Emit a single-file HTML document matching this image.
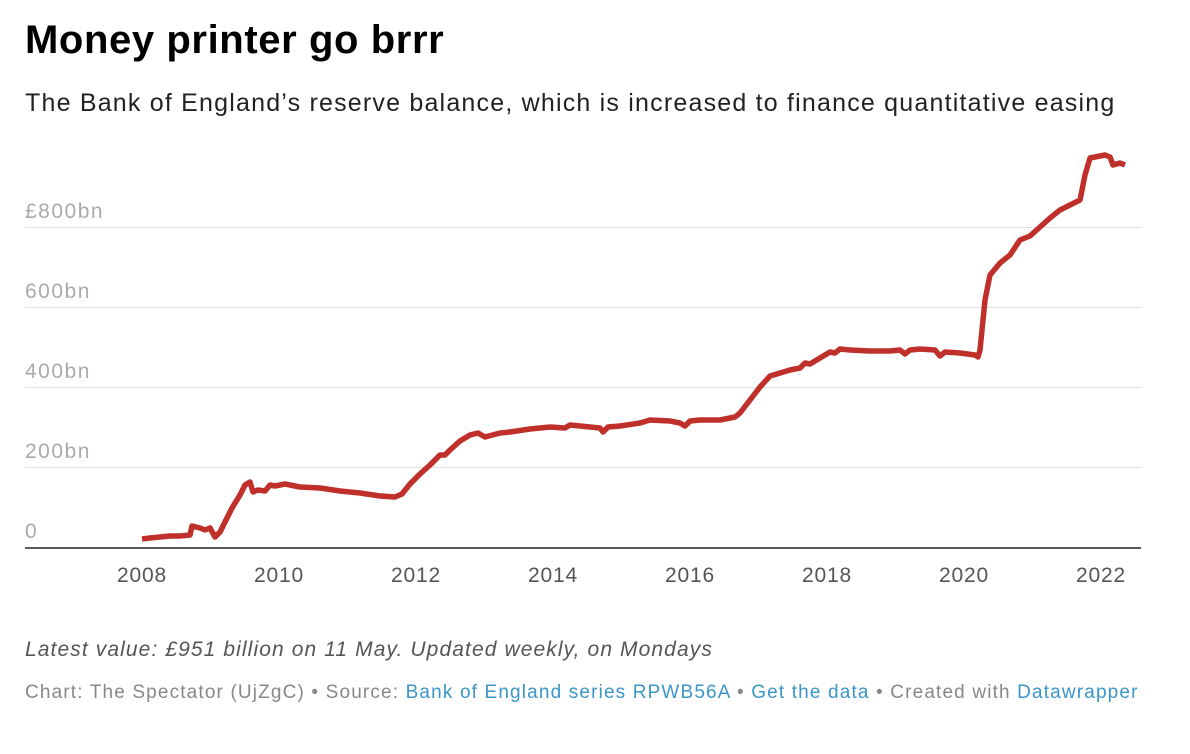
<!DOCTYPE html>
<html><head><meta charset="utf-8"><style>
body{margin:0;width:1190px;height:754px;background:#fff;font-family:"Liberation Sans",sans-serif;position:relative;overflow:hidden}
.t{position:absolute;left:25px;top:18px;font-size:40px;font-weight:bold;color:#000;letter-spacing:0.6px}
.s{position:absolute;left:25px;top:89px;font-size:25px;color:#222;letter-spacing:1.2px;white-space:nowrap}
.n{position:absolute;left:25px;top:638px;font-size:21px;font-style:italic;color:#555;letter-spacing:1.1px;white-space:nowrap}
.f{position:absolute;left:25px;top:682px;font-size:19px;color:#888;letter-spacing:1.15px;white-space:nowrap}
.f a{color:#3a96c8;text-decoration:none}
svg{position:absolute;left:0;top:0}
</style></head><body>
<div class="t">Money printer go brrr</div>
<div class="s">The Bank of England’s reserve balance, which is increased to finance quantitative easing</div>
<svg width="1190" height="754">
<g stroke="#e0e0e0" stroke-width="1">
<line x1="25" x2="1141" y1="227.5" y2="227.5"/><line x1="25" x2="1141" y1="307.5" y2="307.5"/>
<line x1="25" x2="1141" y1="387.5" y2="387.5"/><line x1="25" x2="1141" y1="467.5" y2="467.5"/>
</g>
<line x1="25" x2="1141" y1="548" y2="548" stroke="#222" stroke-width="1.5"/>
<g font-size="21" fill="#aaa" letter-spacing="1.5" font-family="Liberation Sans,sans-serif">
<text x="25" y="218">£800bn</text><text x="25" y="298">600bn</text><text x="25" y="378">400bn</text>
<text x="25" y="458">200bn</text><text x="25" y="538">0</text></g>
<g font-size="21" fill="#555" text-anchor="middle" letter-spacing="0.8" font-family="Liberation Sans,sans-serif">
<text x="142" y="582">2008</text><text x="279" y="582">2010</text><text x="416" y="582">2012</text><text x="553" y="582">2014</text>
<text x="690" y="582">2016</text><text x="827" y="582">2018</text><text x="964" y="582">2020</text><text x="1101" y="582">2022</text></g>
<polyline fill="none" stroke="#c0302a" stroke-width="5.5" stroke-linejoin="round" points="142,539 150,538 160,537 170,536 180,536 190,535 192,526 200,528 205,530 210,528 215,537 220,532 225,522 232,508 240,495 245,485 250,482 253,492 258,490 265,491 270,485 275,486 285,484 300,487 320,488 340,491 360,493 380,496 395,497 402,494 410,484 420,474 430,465 440,455 445,455 450,450 460,441 470,435 478,433 485,437 500,433 510,432 530,429 550,427 565,428 570,425 590,427 600,428 603,432 608,427 620,426 640,423 650,420 670,421 680,423 685,426 690,421 700,420 720,420 735,417 740,413 750,400 760,387 770,376 780,373 790,370 800,368 805,363 810,364 820,358 830,352 835,353 840,349 850,350 870,351 890,351 900,350 905,354 910,350 920,349 935,350 940,356 945,352 960,353 975,355 978,357 980,350 985,300 990,275 1000,263 1010,255 1020,240 1030,236 1040,227 1050,218 1060,210 1070,205 1080,200 1085,175 1090,158 1100,156 1105,155 1110,157 1113,165 1120,163 1125,165"/>
</svg>
<div class="n">Latest value: £951 billion on 11 May. Updated weekly, on Mondays</div>
<div class="f">Chart: The Spectator (UjZgC) • Source: <a>Bank of England series RPWB56A</a> • <a>Get the data</a> • Created with <a>Datawrapper</a></div>
</body></html>
